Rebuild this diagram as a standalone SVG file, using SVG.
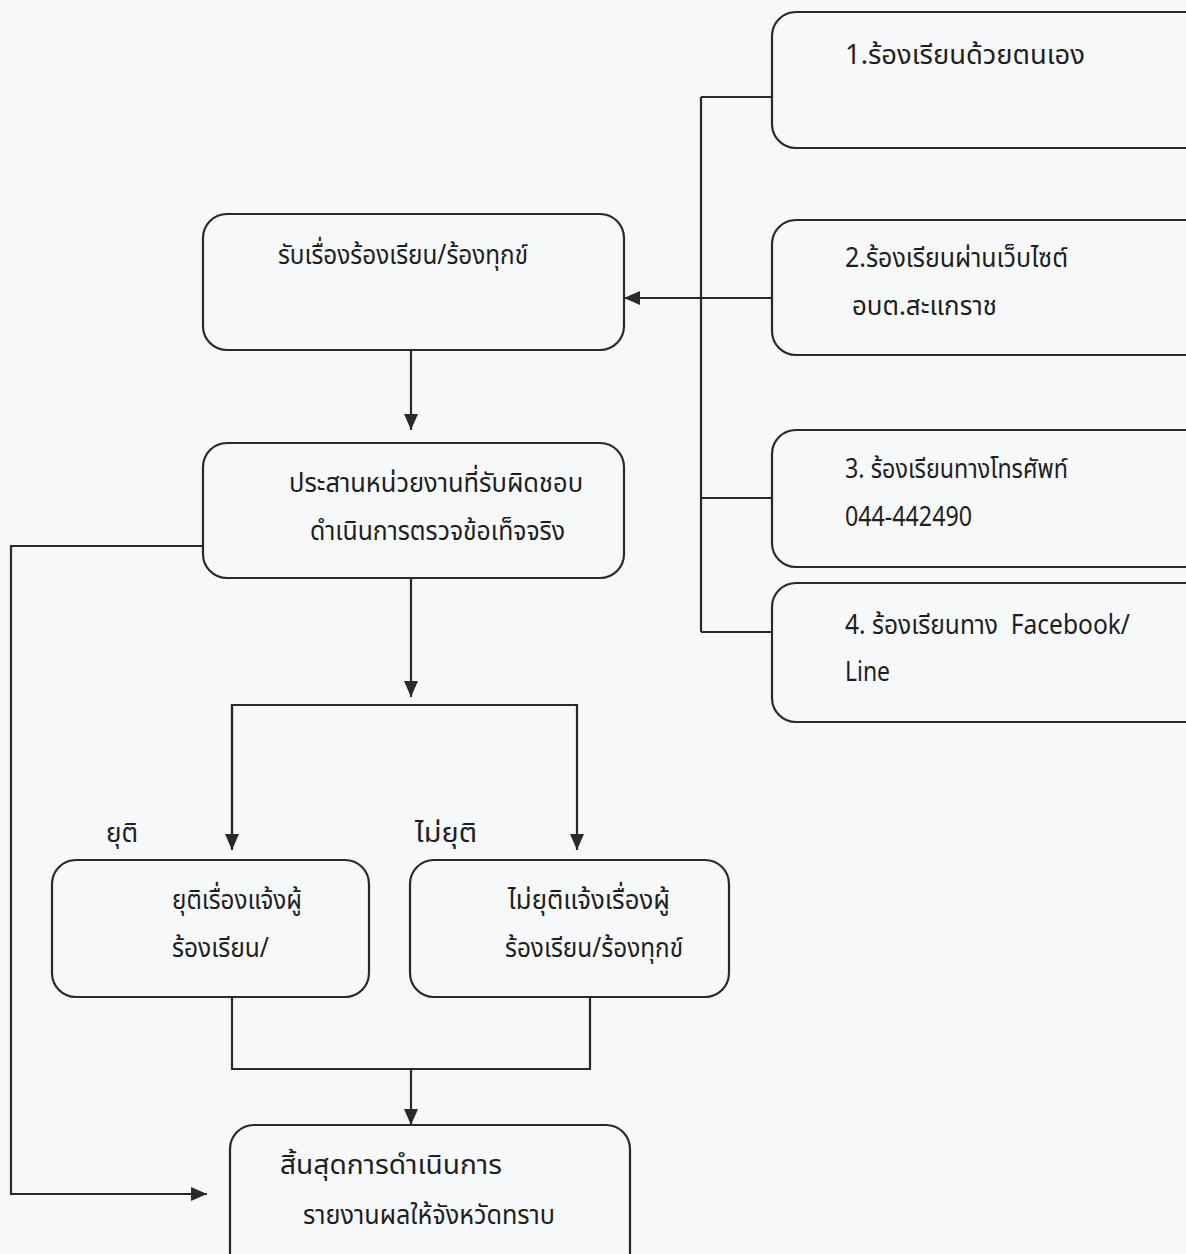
<svg xmlns="http://www.w3.org/2000/svg" width="1186" height="1254" viewBox="0 0 1186 1254">
<defs>
<marker id="ah" viewBox="0 0 16 14" refX="16" refY="7" markerWidth="16" markerHeight="14" markerUnits="userSpaceOnUse" orient="auto">
<path d="M0,0 L16,7 L0,14 z" fill="#2a2a2a"/>
</marker>
<style>
.box{fill:none;stroke:#2a2a2a;stroke-width:2.2}
.ln{fill:none;stroke:#2a2a2a;stroke-width:2.2}
.t{font-family:"Noto Sans Thai","Noto Sans","DejaVu Sans",sans-serif;font-size:27px;fill:#1e1e1e}
</style>
</defs>
<rect width="1186" height="1254" fill="#f7f8fa"/>
<g id="connectors">
<path class="ln" d="M701,97 V632"/>
<path class="ln" d="M701,97 H772"/>
<path class="ln" d="M701,498 H772"/>
<path class="ln" d="M701,632 H772"/>
<path class="ln" d="M772,298 H624" marker-end="url(#ah)"/>
<path class="ln" d="M411,350 V430" marker-end="url(#ah)"/>
<path class="ln" d="M203,546 H11 V1194 H207" marker-end="url(#ah)"/>
<path class="ln" d="M411,578 V697" marker-end="url(#ah)"/>
<path class="ln" d="M232,848 V705 H577 V850" marker-end="url(#ah)"/>
<path class="ln" d="M232,705 V850" marker-end="url(#ah)"/>
<path class="ln" d="M232,997 V1069 H590 V997"/>
<path class="ln" d="M411,1069 V1125" marker-end="url(#ah)"/>
</g>
<g id="n1"><rect class="box" x="772" y="12" width="440" height="136" rx="24"/><text class="t" x="845" y="64" textLength="240" lengthAdjust="spacingAndGlyphs">1.ร้องเรียนด้วยตนเอง</text></g>
<g id="n2"><rect class="box" x="772" y="220" width="440" height="135" rx="24"/><text class="t" x="845" y="267" textLength="223" lengthAdjust="spacingAndGlyphs">2.ร้องเรียนผ่านเว็บไซต์</text><text class="t" x="852" y="315" textLength="145" lengthAdjust="spacingAndGlyphs">อบต.สะแกราช</text></g>
<g id="n3"><rect class="box" x="772" y="430" width="440" height="137" rx="24"/><text class="t" x="845" y="478" textLength="223" lengthAdjust="spacingAndGlyphs">3. ร้องเรียนทางโทรศัพท์</text><text class="t" x="845" y="526" textLength="127" lengthAdjust="spacingAndGlyphs">044-442490</text></g>
<g id="n4"><rect class="box" x="772" y="583" width="440" height="139" rx="24"/><text class="t" x="845" y="634" xml:space="preserve" textLength="285" lengthAdjust="spacingAndGlyphs">4. ร้องเรียนทาง  Facebook/</text><text class="t" x="845" y="681" textLength="45" lengthAdjust="spacingAndGlyphs">Line</text></g>
<g id="nA"><rect class="box" x="203" y="214" width="421" height="136" rx="24"/><text class="t" x="278" y="264" textLength="250" lengthAdjust="spacingAndGlyphs">รับเรื่องร้องเรียน/ร้องทุกข์</text></g>
<g id="nB"><rect class="box" x="203" y="443" width="421" height="135" rx="24"/><text class="t" x="289" y="492" textLength="294" lengthAdjust="spacingAndGlyphs">ประสานหน่วยงานที่รับผิดชอบ</text><text class="t" x="310" y="540" textLength="255" lengthAdjust="spacingAndGlyphs">ดำเนินการตรวจข้อเท็จจริง</text></g>
<g id="lbl1"><text class="t" x="106" y="842" textLength="32" lengthAdjust="spacingAndGlyphs">ยุติ</text></g>
<g id="lbl2"><text class="t" x="415" y="842" textLength="62" lengthAdjust="spacingAndGlyphs">ไม่ยุติ</text></g>
<g id="nC"><rect class="box" x="52" y="860" width="317" height="137" rx="24"/><text class="t" x="172" y="909" textLength="130" lengthAdjust="spacingAndGlyphs">ยุติเรื่องแจ้งผู้</text><text class="t" x="172" y="957" textLength="97" lengthAdjust="spacingAndGlyphs">ร้องเรียน/</text></g>
<g id="nD"><rect class="box" x="410" y="860" width="319" height="137" rx="24"/><text class="t" x="508" y="909" textLength="162" lengthAdjust="spacingAndGlyphs">ไม่ยุติแจ้งเรื่องผู้</text><text class="t" x="505" y="957" textLength="178" lengthAdjust="spacingAndGlyphs">ร้องเรียน/ร้องทุกข์</text></g>
<g id="nF"><rect class="box" x="230" y="1125" width="400" height="160" rx="24"/><text class="t" x="280" y="1174" textLength="222" lengthAdjust="spacingAndGlyphs">สิ้นสุดการดำเนินการ</text><text class="t" x="303" y="1224" textLength="252" lengthAdjust="spacingAndGlyphs">รายงานผลให้จังหวัดทราบ</text></g>
</svg>
